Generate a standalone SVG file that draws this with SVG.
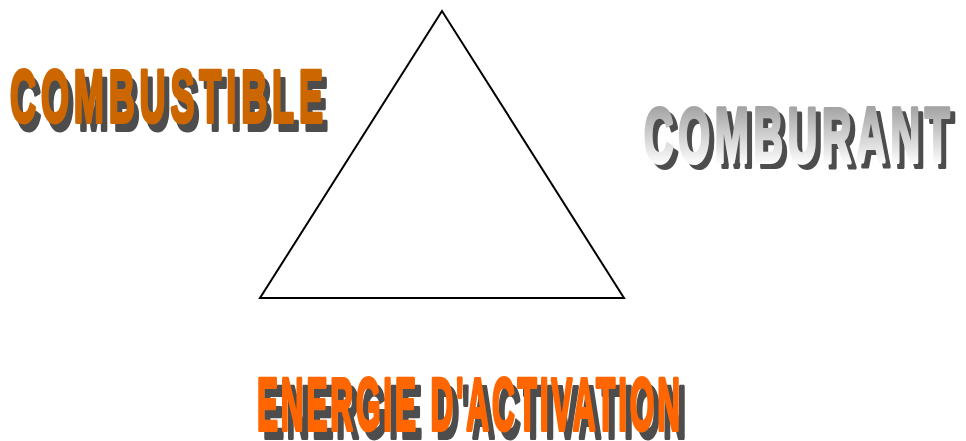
<svg xmlns="http://www.w3.org/2000/svg" width="966" height="441" viewBox="0 0 966 441">
<style>
.t{font-family:"Liberation Sans",Arial,sans-serif;font-weight:bold;stroke-linejoin:round;stroke-width:4}
.sh{fill:#4d4d4d;stroke:#4d4d4d}
.o1{fill:#cc6600;stroke:#cc6600}
.o2{fill:#ff6600;stroke:#ff6600}
.gr{fill:url(#g);stroke:url(#g)}
</style>
<defs>
<linearGradient id="g" x1="0" y1="0" x2="0" y2="1">
<stop offset="0" stop-color="#8c8c8c"/>
<stop offset="0.85" stop-color="#ffffff"/>
<stop offset="1" stop-color="#ffffff"/>
</linearGradient>
</defs>
<rect width="966" height="441" fill="#ffffff"/>
<g id="triangle">
<polygon points="442,11 260,298 624,298" fill="none" stroke="#000" stroke-width="2"/>
</g>
<g id="combustible">
<g transform="translate(15,130) scale(0.48,1)">
<text class="t sh" x="0" y="0" font-size="75" textLength="652" lengthAdjust="spacing">COMBUSTIBLE</text>
</g>
<g transform="translate(10,122) scale(0.48,1)">
<text class="t o1" x="0" y="0" font-size="75" textLength="652" lengthAdjust="spacing">COMBUSTIBLE</text>
</g>
</g>
<g id="comburant">
<g transform="translate(649,167) scale(0.53,1)">
<text class="t sh" x="0" y="0" font-size="77" textLength="577" lengthAdjust="spacing">COMBURANT</text>
</g>
<g transform="translate(644,162) scale(0.53,1)">
<text class="t gr" x="0" y="0" font-size="77" textLength="577" lengthAdjust="spacing">COMBURANT</text>
</g>
</g>
<g id="energie">
<g transform="translate(263,438) scale(0.42,1)">
<text class="t sh" x="0" y="0" font-size="75" textLength="1007" lengthAdjust="spacing">ENERGIE D'ACTIVATION</text>
</g>
<g transform="translate(257,430) scale(0.42,1)">
<text class="t o2" x="0" y="0" font-size="75" textLength="1007" lengthAdjust="spacing">ENERGIE D'ACTIVATION</text>
</g>
</g>
<g id="connectors"/>
</svg>
